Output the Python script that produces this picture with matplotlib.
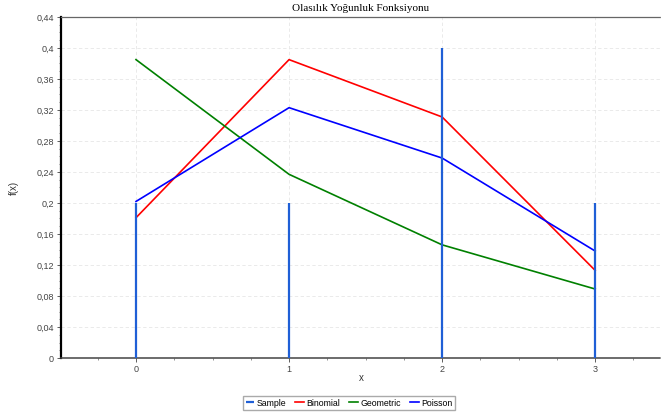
import numpy as np
import matplotlib
matplotlib.use("Agg")
import matplotlib.pyplot as plt
from matplotlib.ticker import MultipleLocator

# data
x_vals = [0, 1, 2, 3]
sample = [0.2, 0.2, 0.4, 0.2]
binomial = [0.181, 0.385, 0.311, 0.113]
geometric = [0.385, 0.237, 0.146, 0.089]
poisson = [0.202, 0.323, 0.258, 0.138]
y_ticks = [0, 0.04, 0.08, 0.12, 0.16, 0.2, 0.24, 0.28, 0.32, 0.36, 0.4, 0.44]
y_labels = ["0", "0,04", "0,08", "0,12", "0,16", "0,2", "0,24", "0,28",
            "0,32", "0,36", "0,4", "0,44"]

plt.rcParams['font.family'] = ['Liberation Sans', 'DejaVu Sans']

fig = plt.figure(figsize=(6.61, 4.15), dpi=100)
ax = fig.add_axes([61 / 661, 1 - 358 / 415, 1 - 61 / 661, 341 / 415])

ax.vlines(x_vals, 0, sample, color='#1f5fd6', lw=1.6, label='Sample', zorder=3)
ax.plot(x_vals, binomial, color='#ff0000', lw=1.2, label='Binomial')
ax.plot(x_vals, geometric, color='#008000', lw=1.2, label='Geometric')
ax.plot(x_vals, poisson, color='#0000ff', lw=1.2, label='Poisson')

ax.set_xlim(-0.49, 3.43)
ax.set_ylim(0, 0.44)
ax.set_xticks(x_vals)
ax.xaxis.set_minor_locator(MultipleLocator(0.25))
ax.set_yticks(y_ticks)
ax.set_yticklabels(y_labels)
ax.yaxis.set_minor_locator(MultipleLocator(0.01))
ax.tick_params(labelsize=6.5, colors='#444444', length=3, width=0.6, pad=2)
ax.tick_params(which='minor', length=1.5, width=0.5, color='#666666')

ax.grid(True, which='major', color='#e6e6e6', lw=0.6, ls=(0, (4, 3)))
ax.set_axisbelow(True)

ax.spines['right'].set_visible(False)
ax.spines['left'].set_linewidth(1.6)
ax.spines['left'].set_color('black')
ax.spines['bottom'].set_linestyle((0, (2, 1)))
ax.spines['bottom'].set_color('#444444')
ax.spines['bottom'].set_linewidth(1.1)
ax.spines['top'].set_linestyle((0, (2, 1)))
ax.spines['top'].set_color('#666666')
ax.spines['top'].set_linewidth(0.9)

ax.set_title('Olasılık Yoğunluk Fonksiyonu', family='Liberation Serif',
             fontsize=8, pad=4)
ax.set_xlabel('x', fontsize=7, color='#333333')
ax.xaxis.set_label_coords(0.5, -15 / 341)
ax.set_ylabel('f(x)', fontsize=7, color='#333333')
ax.yaxis.set_label_coords(-42 / 600, 0.5)

fig.legend(loc='center', bbox_to_anchor=(349 / 661, 1 - 403 / 415), ncol=4,
           fontsize=6.3, frameon=True, fancybox=False, edgecolor='#aaaaaa',
           handlelength=1.0, handletextpad=0.3, columnspacing=1.0,
           borderpad=0.25, framealpha=1)

fig.savefig('out.png', dpi=100)
